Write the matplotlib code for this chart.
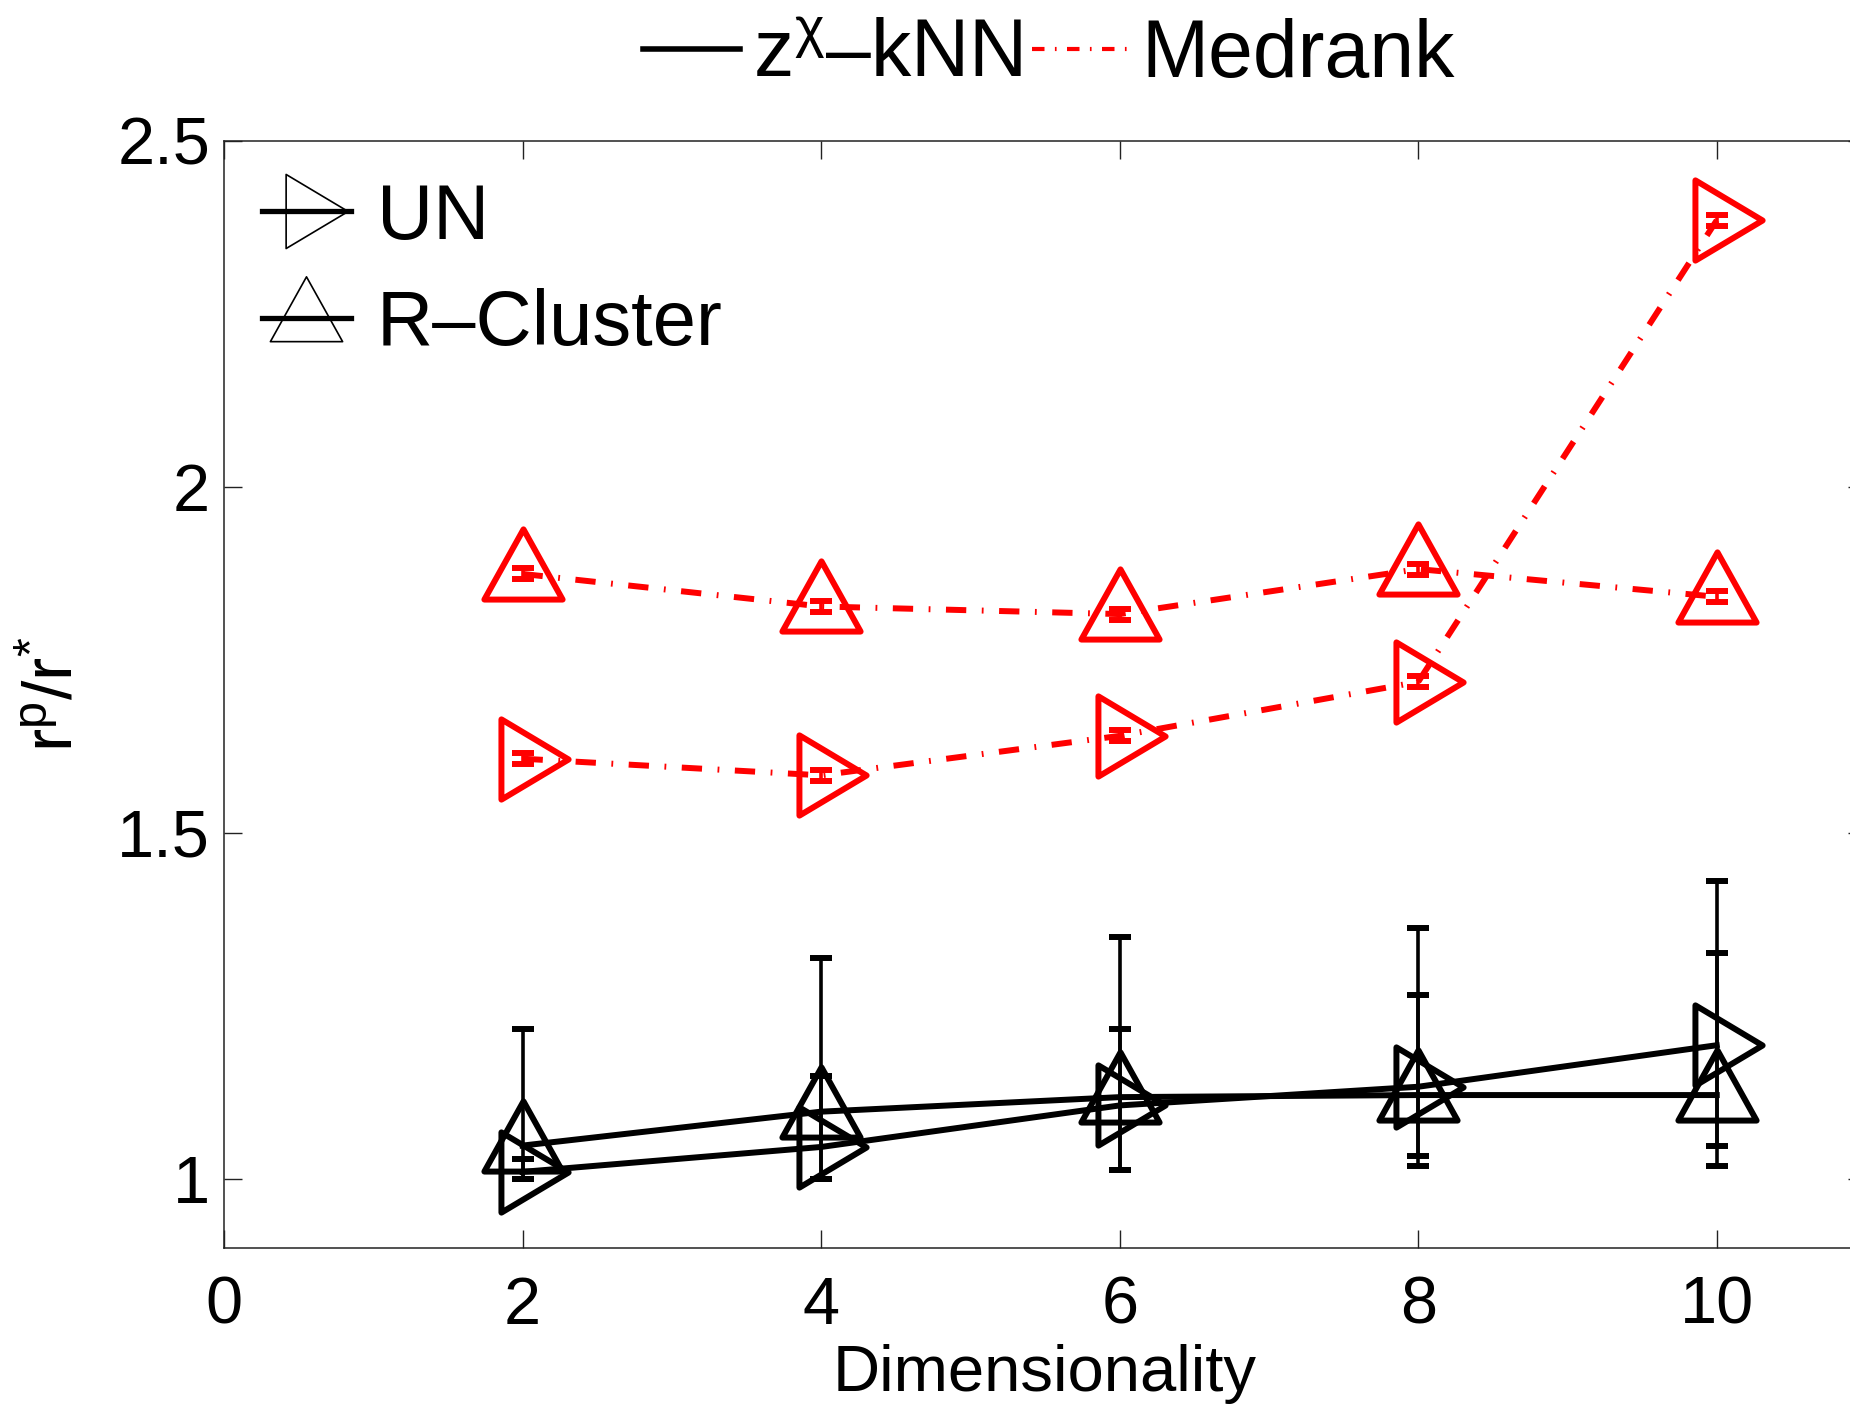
import numpy as np
import matplotlib
matplotlib.use("Agg")
import matplotlib.pyplot as plt
from matplotlib.lines import Line2D
from matplotlib.path import Path
from matplotlib.markers import MarkerStyle

# ---------------- data ----------------
dims = [2, 4, 6, 8, 10]

# z^chi-kNN (black, solid)
zknn_un = [1.010, 1.046, 1.106, 1.133, 1.193]
zknn_un_low = [1.000, 1.000, 1.012, 1.033, 1.048]
zknn_un_high = [1.029, 1.148, 1.216, 1.265, 1.326]

zknn_rc = [1.048, 1.097, 1.118, 1.121, 1.121]
zknn_rc_low = [1.000, 1.000, 1.012, 1.018, 1.018]
zknn_rc_high = [1.216, 1.319, 1.350, 1.362, 1.430]

# Medrank (red, dash-dot)
med_un = [1.607, 1.583, 1.640, 1.718, 2.385]
med_un_err = [0.008, 0.008, 0.008, 0.008, 0.008]
med_rc = [1.874, 1.827, 1.816, 1.881, 1.841]
med_rc_err = [0.008, 0.008, 0.008, 0.008, 0.008]

xticks = [0, 2, 4, 6, 8, 10]
yticks = [1, 1.5, 2, 2.5]
ytick_labels = ["1", "1.5", "2", "2.5"]
xlabel = "Dimensionality"
ylabel = r"$\mathsf{r^{p}/r^{*}}$"
method_labels = [r"$\mathregular{z^{\chi}}$–kNN", "Medrank"]
dist_labels = ["UN", "R–Cluster"]

# ---------------- style ----------------
plt.rcParams["font.family"] = ["Liberation Sans", "DejaVu Sans"]
plt.rcParams["mathtext.fontset"] = "custom"
plt.rcParams["mathtext.rm"] = "Liberation Sans"
plt.rcParams["mathtext.sf"] = "Liberation Sans"
plt.rcParams["mathtext.it"] = "Liberation Sans:italic"

W, H = 1850, 1404
fig = plt.figure(figsize=(W / 100, H / 100), dpi=100)
ax = fig.add_axes([224 / W, 1 - 1248 / H, (1866 - 224) / W, (1248 - 140.7) / H])

def closed(v):
    return Path(v + [v[0]], closed=True)

m_right = MarkerStyle(closed([(-22, 40), (45, 0), (-22, -40)]))
m_up = MarkerStyle(closed([(0, 45), (-39, -25), (39, -25)]))

MS = 65
LW = 4.3
dash = (0, (3.4, 2.6, 0.3, 2.6))

common = dict(markersize=MS, mfc="none", mew=4.3, lw=LW,
              elinewidth=2.6, capsize=8, capthick=4)

def asym(y, lo, hi):
    y = np.asarray(y); return [y - np.asarray(lo), np.asarray(hi) - y]

ax.errorbar(dims, zknn_un, yerr=asym(zknn_un, zknn_un_low, zknn_un_high),
            color="k", ls="-", marker=m_right, **common)
ax.errorbar(dims, zknn_rc, yerr=asym(zknn_rc, zknn_rc_low, zknn_rc_high),
            color="k", ls="-", marker=m_up, **common)
ax.errorbar(dims, med_un, yerr=med_un_err, color="r", ls=dash,
            marker=m_right, **common)
ax.errorbar(dims, med_rc, yerr=med_rc_err, color="r", ls=dash,
            marker=m_up, **common)

ax.set_xlim(0, 11)
ax.set_ylim(0.9, 2.5)
ax.set_xticks(xticks)
ax.set_yticks(yticks)
ax.set_yticklabels(ytick_labels)
ax.tick_params(direction="in", length=13, width=1, top=True, right=True,
               labelsize=48, color="#222222")
ax.tick_params(axis="x", pad=20)
ax.tick_params(axis="y", pad=10)
for s in ax.spines.values():
    s.set_linewidth(1.1)
    s.set_color("#222222")

ax.set_xlabel(xlabel, fontsize=47)
ax.xaxis.set_label_coords(0.5, -0.087)
ax.set_ylabel(ylabel, fontsize=50)
ax.yaxis.label.set_verticalalignment("center")
ax.yaxis.set_label_coords((54 - 224) / 1642, 0.5)

# inner legend (distributions)
h_in = [Line2D([], [], color="k", lw=3.8, marker=m_right, ms=60, mfc="none", mew=1.2),
        Line2D([], [], color="k", lw=3.8, marker=m_up, ms=60, mfc="none", mew=1.2)]
ax.legend(h_in, dist_labels, loc="upper left", bbox_to_anchor=(0.023, 0.963),
          frameon=False, fontsize=56, handlelength=1.15, handletextpad=0.33,
          labelspacing=0.43, borderpad=0, borderaxespad=0)

# top legend (methods)
h_top = [Line2D([], [], color="k", lw=4),
         Line2D([], [], color="r", lw=3, ls=(0, (3, 2.5, 0.4, 2.5)))]
fig.legend(h_top, method_labels, loc="center", bbox_to_anchor=(1049 / W, 1 - 56 / H),
           ncol=2, frameon=False, fontsize=58, handlelength=1.2,
           handletextpad=0.16, columnspacing=0.12, borderpad=0)

fig.savefig("out.png", dpi=100)
